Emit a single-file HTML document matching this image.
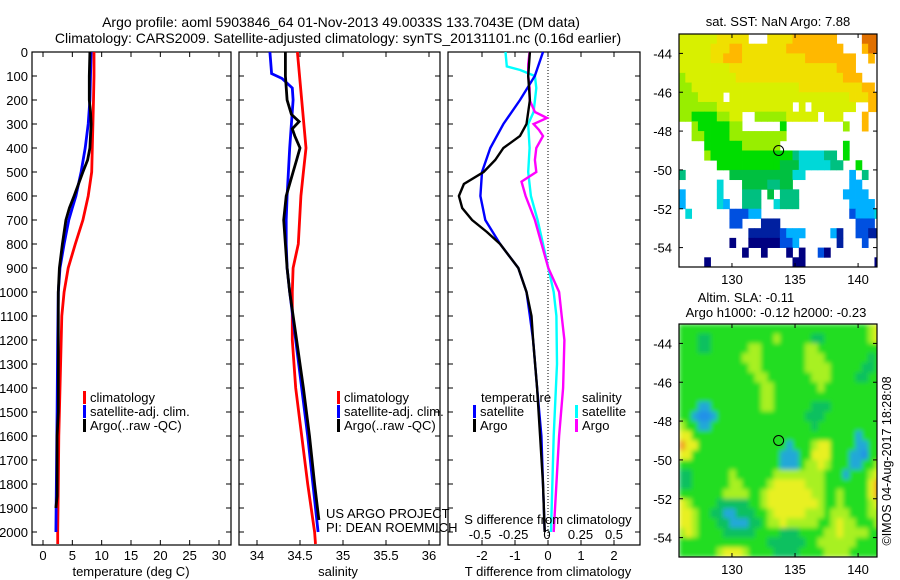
<!DOCTYPE html>
<html><head><meta charset="utf-8"><style>
body{margin:0;background:#fff;}
svg{display:block;font-family:"Liberation Sans",sans-serif;}
</style></head><body>
<svg id="fig" width="900" height="580" viewBox="0 0 900 580">
<rect width="900" height="580" fill="#fff"/>
<text x="341" y="27" font-size="14" text-anchor="middle">Argo profile: aoml 5903846_64 01-Nov-2013 49.0033S 133.7043E (DM data)</text>
<text x="338" y="43" font-size="14" text-anchor="middle">Climatology: CARS2009. Satellite-adjusted climatology: synTS_20131101.nc (0.16d earlier)</text>
<g id="plots"></g>
</svg>
<script>
// ---------- data ----------
const depthTicks=[0,100,200,300,400,500,600,700,800,900,1000,1100,1200,1300,1400,1500,1600,1700,1800,1900,2000];
const tTicks=[0,5,10,15,20,25,30];
const sTicks=[34,34.5,35,35.5,36];
const dTTicks=[-2,-1,0,1,2];
const dSTicks=[-0.5,-0.25,0,0.25,0.5];
const dSTickLabels=["-0.5","-0.25","0","0.25","0.5"];

const tClimDepth=[0,100,200,300,400,500,600,700,800,900,1000,1100,1200,1400,1600,1800,2000,2050];
const tClim=[8.7,8.7,8.6,8.5,8.4,8.3,7.7,6.8,5.5,4.3,3.6,3.2,3.1,2.9,2.7,2.6,2.5,2.5];
const tSatDepth=[0,100,200,300,400,500,600,650,700,800,900,1000,1200,1500,2000];
const tSat=[8.2,8.1,8.0,7.7,7.2,6.5,5.6,5.0,4.4,3.6,2.9,2.6,2.5,2.4,2.2];
const tArgoDepth=[0,100,200,250,300,400,450,500,600,650,700,800,900,1000,1500,1600,1850,1900];
const tArgo=[8.0,7.9,7.9,8.1,8.2,8.0,7.6,6.8,5.3,4.5,3.9,3.3,2.8,2.6,2.6,2.4,2.4,2.2];

const sClimDepth=[0,200,400,500,600,800,900,1000,1200,1300,1400,1600,1800,2000,2050];
const sClim=[34.47,34.52,34.57,34.54,34.51,34.48,34.42,34.41,34.41,34.43,34.45,34.52,34.59,34.67,34.68];
const sSatDepth=[0,90,110,150,200,400,600,700,800,900,1000,1200,1400,1600,1800,2000];
const sSat=[34.15,34.17,34.29,34.41,34.42,34.38,34.35,34.34,34.34,34.35,34.38,34.45,34.52,34.59,34.65,34.71];
const sArgoDepth=[0,100,200,260,290,320,350,400,450,500,600,700,800,900,1000,1200,1400,1600,1800,1950];
const sArgo=[34.33,34.33,34.35,34.40,34.49,34.41,34.44,34.50,34.46,34.42,34.34,34.31,34.33,34.35,34.38,34.46,34.54,34.61,34.67,34.72];

const dTSatDepth=[0,100,200,300,400,500,600,700,800,900,1000,1100,1200,1400,1600,1800,2000];
const dTSat=[-0.15,-0.4,-0.85,-1.35,-1.75,-2.0,-2.05,-1.9,-1.45,-0.9,-0.65,-0.55,-0.45,-0.33,-0.2,-0.15,-0.1];
const dTArgoDepth=[0,100,200,250,300,350,400,450,500,550,600,650,700,750,800,900,1000,1100,1200,1400,1600,1800,2000];
const dTArgo=[-0.55,-0.6,-0.55,-0.6,-0.65,-0.85,-1.35,-1.6,-1.95,-2.55,-2.7,-2.6,-2.3,-1.85,-1.45,-0.9,-0.65,-0.5,-0.45,-0.33,-0.24,-0.15,-0.1];
const dSSatDepth=[0,60,75,100,150,250,300,400,500,600,700,800,900,1000,1100,1300,1600,2000];
const dSSat=[-0.31,-0.30,-0.2,-0.09,-0.08,-0.1,-0.14,-0.13,-0.14,-0.12,-0.07,-0.03,0.01,0.05,0.07,0.075,0.05,0.03];
const dSArgoDepth=[0,50,100,150,200,250,275,300,325,350,400,450,500,540,600,700,800,900,1000,1100,1200,1400,1600,1800,2000];
const dSArgo=[-0.13,-0.14,-0.14,-0.13,-0.13,-0.09,0.0,-0.1,-0.06,-0.03,-0.08,-0.09,-0.08,-0.19,-0.16,-0.09,-0.04,0.01,0.09,0.11,0.13,0.12,0.09,0.07,0.05];

const lonTicks=[130,135,140];
const latTicks=[-44,-46,-48,-50,-52,-54];
const argoLon=133.7, argoLat=-49.0;
const sstRows=[
"yyyyyyYYYYY...YYYYooooooo....OOO",
"yyyyyYYYooYYYYYYYooooooooo...oOO",
"yyyyyYYoooYYYYYYYYYYoooooooo..o.",
"yyyyyyyyYYYYYYYYYYYYYYYYYooo....",
"LyyyyyyyyYYYYYYYYYYYYYYYYYooo...",
"LLyyyyyyyyyyyyyyyyyYYYYYYYYYYoo.",
"LLLyyyy.yyyyyyyyyyyyyyyyyyyYYYoo",
"LLLLLLyyyyyyyyyyyy.y.yyyyyyy..oo",
"LLGGGGLLyy..LLLLLyyyyy.yyy...o..",
"..LGGGGGLL......G.........L..o..",
"..LLGGGGLLLLLLLLL...............",
"....GGGGGGLLLLLL..........G.....",
"....LGGGGGGGGGGGGGTccccTT.G.....",
"......GGGGGGGGGGgggcccccTT..G...",
"T.......ggggggggggcc.......b.T..",
"......c...ggggTTgg.........bb...",
"b.....c...TTT.g.TTT.......bbbb..",
"b.....cb..TTT..cTTT........bbbb.",
".c......BBBbb..............Bbbbc",
"........BB...DDD............BBB.",
"...........DDDDDBbbb....bD..BBDD",
"........N..NNNNNBBb......D...B..",
"..........N..N...N.N..BN........",
"....N.............NN...........N"];
const slaRows=[
"GGGGGGGGGGGGGGGGGGGGGGGGGGGGGGLY",
"GGGTTGGGGGGGGGGLGGGGGTTGGGGGGGLY",
"GGGTTGGGGGGLLGGGGGGGLLGGGGGGGGGG",
"GGGGGGGGGGLLLGGGGGGGLLLGGGGGGGTG",
"GGGGGGGGGGGLLGGGGGGGLLLLGGGGGTTG",
"GGGGGGGGGGGGLLGGGGGGGLLLGGGGTTGG",
"GGGGGGGGGGGGGLLGGGGGGGLGGGGGGGGG",
"GGGGGGGGGGGGGLLGGGGGGGGGGGGGGGGG",
"GGGCCGGGGGGGGLLGGGGGGTTTGGGGGGGG",
"GGCBBCGGGGGGGGGGGGGGTTTGGGGGGGGG",
"LGGCCGGGGGGGGGGGGGGGGTGGGGGGGGGG",
"YYGGGGGGGGGGGGGGGGGGGGGGGGGGCGGG",
"OYYGGGGGGGGGGGGGGCGGGLYYGGGGCCGG",
"YYGGGGGGGGGGGGGGCCCGGYYYGGGCCBGG",
"GGGGGGGGGGGGGGGGCCCGLLYLGGGCCGGL",
"TTGGGGGGLGGGGGGLLLLLLLLGGGCGGGLY",
"TTGGGGGGLLGGGGLYYYYYLLLGGGGGGGYO",
"GGGGGGGLLLLGGLYYYYYYYLLGGLGGGGYO",
"YLGGGGTTTTTGGLYYYYYYYYLGGLGGGGLY",
"YYLGGTTCCTTTGGLYYYYYLLLGLLLGGGLL",
"YYLGGGTTCCCTTGLLYLLLLLGGLYLLGGGL",
"LYLGGGGTTTTTGGGGTTTGGGGLLYLLLLGG",
"GGGGGGGGGGGGGGTTTTTTGGLLLLLLGGGG",
"GGGGGGLYYYLGGGGTTTTGGGGLLLLGGGGG"];

// ---------- helpers ----------
const NS="http://www.w3.org/2000/svg";
const root=document.getElementById('plots');
function el(tag,attrs,parent,txt){const e=document.createElementNS(NS,tag);for(const k in attrs)e.setAttribute(k,attrs[k]);if(txt!==undefined)e.textContent=txt;(parent||root).appendChild(e);return e;}
function lin(d0,d1,r0,r1){return v=>r0+(v-d0)*(r1-r0)/(d1-d0);}
const yD=lin(0,2000,52,532);
const TOP=52,BOT=545;

function panel(name,x0,x1){
  const g=el('g',{});
  
  
  const r=el('rect',{x:x0,y:TOP,width:x1-x0,height:BOT-TOP,fill:'none',stroke:'#000','stroke-width':1.2},g);
  
  
  depthTicks.forEach(d=>{const y=yD(d);
    el('line',{x1:x0,x2:x0+5,y1:y,y2:y,stroke:'#000'},g);
    el('line',{x1:x1-5,x2:x1,y1:y,y2:y,stroke:'#000'},g);});
  return g;
}
function xticks(g,ticks,sx,labels,ly,name){
  ticks.forEach((t,i)=>{const x=sx(t);
    el('line',{x1:x,x2:x,y1:BOT,y2:BOT-5,stroke:'#000'},g);
    el('line',{x1:x,x2:x,y1:TOP,y2:TOP+5,stroke:'#000'},g);
    const tx=el('text',{x:x,y:ly,'font-size':13,'text-anchor':'middle'},g,labels?labels[i]:String(t));
    
    });
}
function series(g,xs,ds,sx,color,name,w){
  const pts=xs.map((v,i)=>sx(v).toFixed(1)+','+yD(ds[i]).toFixed(1)).join(' ');
  const p=el('polyline',{points:pts,fill:'none',stroke:color,'stroke-width':w||2.8,'stroke-linejoin':'miter'},g);
  
  
}
function legend(g,x,y,color,label,name){
  el('rect',{x:x,y:y-11,width:3,height:13,fill:color},g);
  const t=el('text',{x:x+7,y:y,'font-size':13},g,label);
  
  
}

// depth axis labels
depthTicks.forEach(d=>{const t=el('text',{x:28,y:yD(d)+5,'font-size':13,'text-anchor':'end'},root,String(d));
  
  });

// panel 1 temperature
const sxT=lin(0,30,43,219);
const g1=panel('temperature-panel',32,231);
series(g1,tClim,tClimDepth,sxT,'#f00','temperature-climatology-line');
series(g1,tSat,tSatDepth,sxT,'#00f','temperature-satellite-line');
series(g1,tArgo,tArgoDepth,sxT,'#000','temperature-argo-line');
xticks(g1,tTicks,sxT,null,560,'temperature-tick-label');
let t=el('text',{x:131,y:576,'font-size':13,'text-anchor':'middle'},g1,'temperature (deg C)');


legend(g1,83,402,'#f00','climatology','legend-climatology');
legend(g1,83,416,'#00f','satellite-adj. clim.','legend-satellite-adj');
legend(g1,83,430,'#000','Argo(..raw -QC)','legend-argo');

// panel 2 salinity
const sxS=lin(34,36,257,429);
const g2=panel('salinity-panel',239,440);
series(g2,sClim,sClimDepth,sxS,'#f00','salinity-climatology-line');
series(g2,sSat,sSatDepth,sxS,'#00f','salinity-satellite-line');
series(g2,sArgo,sArgoDepth,sxS,'#000','salinity-argo-line');
xticks(g2,sTicks,sxS,null,560,'salinity-tick-label');
t=el('text',{x:338,y:576,'font-size':13,'text-anchor':'middle'},g2,'salinity');


legend(g2,337,402,'#f00','climatology','legend-climatology-2');
legend(g2,337,416,'#00f','satellite-adj. clim.','legend-satellite-adj-2');
legend(g2,337,430,'#000','Argo(..raw -QC)','legend-argo-2');
t=el('text',{x:326,y:518,'font-size':13},g2,'US ARGO PROJECT');


t=el('text',{x:326,y:532,'font-size':13},g2,'PI: DEAN ROEMMICH');



// panel 3 differences
const sxdT=lin(-2,2,482,614);
const sxdS=lin(-0.5,0.5,480,614);
const g3=panel('difference-panel',448,640);
el('line',{x1:sxdT(0),x2:sxdT(0),y1:TOP,y2:BOT,stroke:'#000','stroke-dasharray':'1,2'},g3);
series(g3,dSSat,dSSatDepth,sxdS,'#0ff','salinity-diff-satellite-line',2.4);
series(g3,dSArgo,dSArgoDepth,sxdS,'#f0f','salinity-diff-argo-line',2.4);
series(g3,dTSat,dTSatDepth,sxdT,'#00f','temperature-diff-satellite-line',2.4);
series(g3,dTArgo,dTArgoDepth,sxdT,'#000','temperature-diff-argo-line',2.4);
xticks(g3,dTTicks,sxdT,null,560,'t-diff-tick-label');
dSTicks.forEach((v,i)=>{const tx=el('text',{x:sxdS(v),y:539,'font-size':13,'text-anchor':'middle'},g3,dSTickLabels[i]);
  
  });
t=el('text',{x:548,y:524,'font-size':13,'text-anchor':'middle'},g3,'S difference from climatology');


t=el('text',{x:548,y:576,'font-size':13,'text-anchor':'middle'},g3,'T difference from climatology');


t=el('text',{x:481,y:402,'font-size':13},g3,'temperature');


t=el('text',{x:582,y:402,'font-size':13},g3,'salinity');


legend(g3,473,416,'#00f','satellite','legend-t-satellite');
legend(g3,473,430,'#000','Argo','legend-t-argo');
legend(g3,575,416,'#0ff','satellite','legend-s-satellite');
legend(g3,575,430,'#f0f','Argo','legend-s-argo');

// ---------- maps ----------
const sstColors={O:'#e07000',o:'#ffb800',Y:'#f0e000',y:'#d8f000',L:'#98ee00',G:'#00dd00',g:'#00c040',T:'#00c080',c:'#00d8d8',b:'#00b0ff',B:'#0050e0',D:'#0020a0',N:'#000080'};
const slaColors={G:'#20dd20',T:'#10c060',C:'#20a8d8',B:'#2090e8',L:'#a8f020',Y:'#e8f020',O:'#f0a020'};
function map(name,x0,y0,rows,colors,blur){
  const sx=lin(125.8,141.5,679,877), sy=lin(-43,-55,y0,y0+233);
  const g=el('g',{});
  
  
  const cid=name+'-clip';
  const cp=el('clipPath',{id:cid},g);el('rect',{x:679,y:y0,width:198,height:233},cp);
  const cells=el('g',{'clip-path':'url(#'+cid+')'},g);
  const inner=el('g',blur?{filter:'url(#blur)'}:{},cells);
  if(blur){const f=el('filter',{id:'blur',x:'-10%',y:'-10%',width:'120%',height:'120%'},g);el('feGaussianBlur',{stdDeviation:2.5},f);
    el('rect',{x:679,y:y0,width:198,height:233,fill:'#20dd20'},inner);}
  rows.forEach((row,r)=>{for(let c=0;c<row.length;c++){const ch=row[c];if(!colors[ch])continue;
    const lx=125.8+c*0.5, la=-43-r*0.5;
    el('rect',{x:sx(lx),y:sy(la),width:sx(lx+0.5)-sx(lx)+0.4,height:sy(la-0.5)-sy(la)+0.4,fill:colors[ch]},inner);}});
  el('circle',{cx:sx(argoLon),cy:sy(argoLat),r:5,fill:'none',stroke:'#000','stroke-width':1},g);
  el('rect',{x:679,y:y0,width:198,height:233,fill:'none',stroke:'#000','stroke-width':1.2},g);
  latTicks.forEach(v=>{const y=sy(v);
    el('line',{x1:679,x2:683,y1:y,y2:y,stroke:'#000'},g);el('line',{x1:873,x2:877,y1:y,y2:y,stroke:'#000'},g);
    const tx=el('text',{x:672,y:y+5,'font-size':13,'text-anchor':'end'},g,String(v));
    
    });
  lonTicks.forEach(v=>{const x=sx(v);
    el('line',{x1:x,x2:x,y1:y0,y2:y0+4,stroke:'#000'},g);el('line',{x1:x,x2:x,y1:y0+229,y2:y0+233,stroke:'#000'},g);
    const tx=el('text',{x:x,y:y0+250,'font-size':13,'text-anchor':'middle'},g,String(v));
    
    });
  return g;
}
const m1=map('sst-map',679,34,sstRows,sstColors,false);
t=el('text',{x:778,y:26,'font-size':13,'text-anchor':'middle'},m1,'sat. SST: NaN Argo: 7.88');


const m2=map('sla-map',679,324,slaRows,slaColors,true);
t=el('text',{x:746,y:302,'font-size':13,'text-anchor':'middle'},m2,'Altim. SLA: -0.11');


t=el('text',{x:776,y:317,'font-size':13,'text-anchor':'middle'},m2,'Argo h1000: -0.12 h2000: -0.23');


t=el('text',{x:0,y:0,'font-size':12.5,'text-anchor':'middle',transform:'translate(891,461) rotate(-90)'},root,'©IMOS 04-Aug-2017 18:28:08');


</script>
</body></html>
